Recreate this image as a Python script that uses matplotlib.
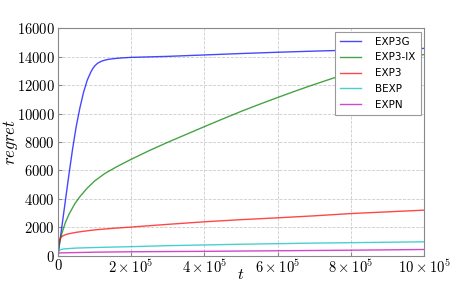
import numpy as np
import matplotlib
matplotlib.use("Agg")
import matplotlib.pyplot as plt
from matplotlib.ticker import FuncFormatter

plt.rcParams['mathtext.fontset'] = 'cm'
plt.rcParams['font.family'] = ['DejaVu Sans']

# regret curves, t in units of 1e5
t_exp3g = [0, 0.1, 0.2, 0.3, 0.4, 0.5, 0.6, 0.7, 0.8, 0.9, 0.95, 1.0, 1.05, 1.1, 1.2, 1.3, 1.4,
           1.6, 1.8, 2, 3, 4, 5, 6, 7, 8, 9, 10]
exp3g = [0, 1900, 3800, 5700, 7500, 9100, 10400, 11500, 12350, 12930, 13160, 13340, 13470, 13570,
         13700, 13780, 13830, 13890, 13930, 13960, 14030, 14130, 14230, 14320, 14400, 14470,
         14530, 14590]

t_exp3ix = [0, 0.01, 0.03, 0.06, 0.1, 0.2, 0.3, 0.46, 0.6, 0.8, 1.0, 1.28, 1.6, 2.0, 2.5, 3.0,
            3.5, 4.0, 4.5, 5.0, 5.5, 6.0, 6.5, 7.0, 7.5, 8.0, 8.5, 9.0, 9.5, 10]
exp3ix = [0, 300, 700, 1100, 1500, 2300, 2900, 3650, 4150, 4750, 5250, 5780, 6250, 6780, 7400,
          7980, 8530, 9080, 9620, 10150, 10650, 11130, 11600, 12050, 12480, 12890, 13270, 13610,
          13900, 14160]

t_exp3 = [0, 0.005, 0.01, 0.02, 0.03, 0.05, 0.08, 0.12, 0.2, 0.3, 0.5, 0.75, 1, 1.5, 2, 3, 4, 5,
          6, 7, 8, 9, 10]
exp3 = [0, 400, 650, 850, 1000, 1150, 1280, 1370, 1470, 1540, 1640, 1730, 1810, 1920, 2010, 2200,
        2380, 2530, 2660, 2800, 2960, 3080, 3200]

t_bexp = [0, 0.005, 0.01, 0.02, 0.05, 0.1, 0.2, 0.5, 1, 2, 3, 4, 5, 6, 7, 8, 9, 10]
bexp = [0, 150, 220, 300, 390, 440, 480, 530, 570, 630, 700, 750, 800, 840, 880, 910, 940, 970]

t_expn = [0, 0.005, 0.01, 0.05, 1, 2, 4, 6, 8, 10]
expn = [0, 100, 140, 190, 240, 270, 300, 340, 380, 430]

series = [("EXP3G", t_exp3g, exp3g, 'b'),
          ("EXP3-IX", t_exp3ix, exp3ix, 'g'),
          ("EXP3", t_exp3, exp3, 'r'),
          ("BEXP", t_bexp, bexp, 'c'),
          ("EXPN", t_expn, expn, 'm')]

fig = plt.figure(figsize=(4.71, 2.84), dpi=100)
ax = fig.add_axes([0.123, 0.100, 0.777, 0.800])

for name, t, y, c in series:
    ax.plot(np.array(t) * 1e5, y, color=c, alpha=0.72, lw=1.0, label=name)

ax.set_xlim(0, 1e6)
ax.set_ylim(0, 16000)
ax.set_xticks(np.arange(0, 1e6 + 1, 2e5))
ax.set_yticks(np.arange(0, 16001, 2000))


def xfmt(v, pos):
    k = int(round(v / 1e5))
    if k == 0:
        return r'$0$'
    return r'$%d\times10^{5}$' % k


ax.xaxis.set_major_formatter(FuncFormatter(xfmt))
ax.yaxis.set_major_formatter(FuncFormatter(lambda v, p: r'$%d$' % v))
ax.tick_params(labelsize=10.5, direction='in', length=3, color='#888888', pad=2)
ax.grid(True, color='#cccccc', linestyle='--', linewidth=0.6)
for s in ax.spines.values():
    s.set_color('#888888')

ax.set_xlabel(r'$t$', fontsize=11.5)
ax.set_ylabel(r'$regret$', fontsize=12)
ax.xaxis.set_label_coords(0.5, -0.05)
ax.yaxis.set_label_coords(-0.104, 0.5)

leg = ax.legend(loc='upper right', fontsize=7.5, handlelength=2.0, handletextpad=1.4,
                labelspacing=0.55, borderpad=0.5, fancybox=False, framealpha=1,
                borderaxespad=0.3)
leg.get_frame().set_edgecolor('#999999')
leg.get_frame().set_linewidth(0.8)

fig.savefig('out.png', dpi=100)
